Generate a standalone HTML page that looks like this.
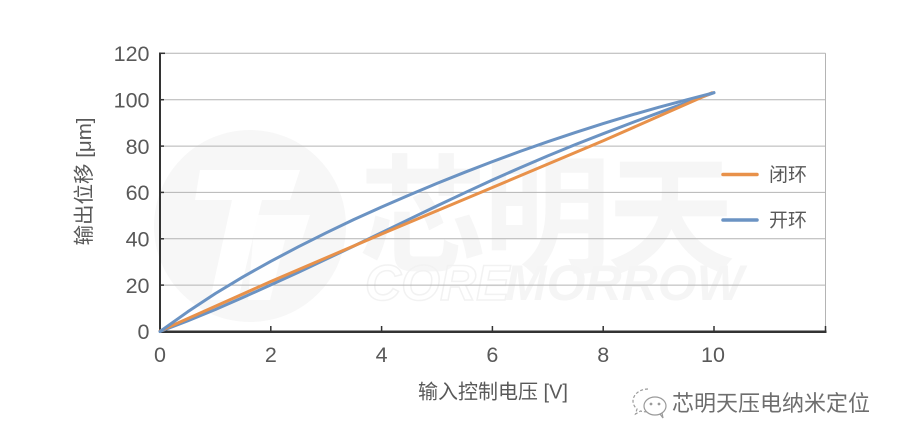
<!DOCTYPE html>
<html>
<head>
<meta charset="utf-8">
<style>
  html,body{margin:0;padding:0;background:#fff;}
  body{width:900px;height:444px;overflow:hidden;}
  svg{display:block;}
  text{font-family:"Liberation Sans","Noto Sans CJK SC",sans-serif;}
</style>
</head>
<body>
<svg width="900" height="444" viewBox="0 0 900 444" xmlns="http://www.w3.org/2000/svg">
  <rect x="0" y="0" width="900" height="444" fill="#ffffff"/>

  <!-- faint watermark -->
  <g>
    <circle cx="250" cy="226" r="96" fill="#f7f7f7"/>
    <path d="M200 170 L300 170 L290 200 L262 200 L238 300 L210 300 L232 200 L195 200 Z" fill="#ffffff"/>
    <path d="M255 215 L310 215 L302 240 L285 240 L270 300 L248 300 Z" fill="#ffffff" opacity="0.8"/>
    <text x="545" y="262" font-size="128" fill="#f6f6f6" text-anchor="middle" font-weight="bold" style="font-family:'Noto Sans CJK SC',sans-serif;letter-spacing:-4px">芯明天</text>
    <text x="365" y="300" font-size="50" fill="none" stroke="#f2f2f2" stroke-width="1.5" font-style="italic" font-weight="bold">CORE</text>
    <text x="505" y="300" font-size="50" fill="#f5f5f5" font-style="italic" font-weight="bold">MORROW</text>
  </g>

  <!-- gridlines -->
  <g stroke="#b4b4b4" stroke-width="1">
    <line x1="160" y1="53.3" x2="825.5" y2="53.3"/>
    <line x1="160" y1="99.7" x2="825.5" y2="99.7"/>
    <line x1="160" y1="146.1" x2="825.5" y2="146.1"/>
    <line x1="160" y1="192.4" x2="825.5" y2="192.4"/>
    <line x1="160" y1="238.8" x2="825.5" y2="238.8"/>
    <line x1="160" y1="285.1" x2="825.5" y2="285.1"/>
    <line x1="825.5" y1="53.3" x2="825.5" y2="331.5"/>
  </g>

  <!-- axes -->
  <g stroke="#333" stroke-width="2">
    <line x1="160" y1="52.5" x2="160" y2="332.5"/>
    <line x1="159" y1="331.8" x2="826.5" y2="331.8" stroke-width="2.5"/>
  </g>
  <g stroke="#333" stroke-width="1.5">
    <line x1="160" y1="53.3" x2="165" y2="53.3"/>
    <line x1="160" y1="99.7" x2="164" y2="99.7"/>
    <line x1="160" y1="146.1" x2="164" y2="146.1"/>
    <line x1="160" y1="192.4" x2="164" y2="192.4"/>
    <line x1="160" y1="238.8" x2="164" y2="238.8"/>
    <line x1="160" y1="285.1" x2="164" y2="285.1"/>
    <line x1="270.8" y1="326" x2="270.8" y2="331"/>
    <line x1="381.6" y1="326" x2="381.6" y2="331"/>
    <line x1="492.4" y1="326" x2="492.4" y2="331"/>
    <line x1="603.2" y1="326" x2="603.2" y2="331"/>
    <line x1="714" y1="326" x2="714" y2="331"/>
    <line x1="825.5" y1="326" x2="825.5" y2="331"/>
  </g>

  <!-- y tick labels -->
  <g font-size="21.5" fill="#595959" text-anchor="end">
    <text x="149.5" y="61">120</text>
    <text x="149.5" y="107.5">100</text>
    <text x="149.5" y="154">80</text>
    <text x="149.5" y="200">60</text>
    <text x="149.5" y="246.5">40</text>
    <text x="149.5" y="293">20</text>
    <text x="149.5" y="339">0</text>
  </g>
  <!-- x tick labels -->
  <g font-size="21.5" fill="#595959" text-anchor="middle">
    <text x="160" y="362">0</text>
    <text x="270.8" y="362">2</text>
    <text x="381.6" y="362">4</text>
    <text x="492.4" y="362">6</text>
    <text x="603.2" y="362">8</text>
    <text x="713" y="362">10</text>
  </g>

  <!-- axis titles -->
  <text x="493" y="398.5" font-size="20" fill="#595959" text-anchor="middle">输入控制电压 [V]</text>
  <text transform="translate(91,181.5) rotate(-90)" font-size="20.5" fill="#595959" text-anchor="middle">输出位移 [μm]</text>

  <!-- series -->
  <polyline fill="none" stroke="#6b93c3" stroke-width="3" stroke-linejoin="round" stroke-linecap="round"
    points="160,331.5 187.7,320.8 215.4,309.5 243.1,297.4 270.8,284.9 298.5,272.2 326.2,259.2 353.9,246.0 381.6,232.6 409.3,219.2 437.0,205.9 464.7,192.8 492.4,180.0 520.1,167.7 547.8,155.9 575.5,144.5 603.2,133.7 630.9,123.1 658.6,112.8 686.3,102.6 714,92.7"/>
  <polyline fill="none" stroke="#e8914a" stroke-width="3" stroke-linejoin="round" stroke-linecap="round"
    points="160,331 270.8,281.5 381.6,234.0 492.4,187.5 603.2,140.8 712,92.7"/>
  <polyline fill="none" stroke="#6b93c3" stroke-width="3" stroke-linejoin="round" stroke-linecap="round"
    points="160,331.5 187.7,311.8 215.4,293.5 243.1,276.8 270.8,261.3 298.5,246.7 326.2,232.8 353.9,219.5 381.6,207.0 409.3,195.0 437.0,183.4 464.7,172.3 492.4,161.6 520.1,151.4 547.8,141.7 575.5,132.4 603.2,123.6 630.9,115.2 658.6,107.3 686.3,99.9 714,92.7"/>

  <!-- legend -->
  <line x1="723" y1="174.5" x2="757" y2="174.5" stroke="#e8914a" stroke-width="3.5" stroke-linecap="round"/>
  <text x="769" y="181" font-size="19" fill="#595959">闭环</text>
  <line x1="723" y1="220" x2="757" y2="220" stroke="#6b93c3" stroke-width="3.5" stroke-linecap="round"/>
  <text x="769" y="226.5" font-size="19" fill="#595959">开环</text>

  <!-- wechat watermark -->
  <g fill="none" stroke="#9a9a9a" stroke-width="1.2">
    <path d="M648 389 c-9 0 -15 6 -15 12 c0 3 1.5 6 4 8 l-1.5 5 l5 -3 c2 .6 4 .8 6 .8" stroke-dasharray="3 2"/>
    <ellipse cx="655" cy="406" rx="11" ry="9"/>
    <path d="M660 414 l3 4 l-1 -5"/>
    <circle cx="651" cy="404" r="0.8" fill="#9a9a9a"/>
    <circle cx="659" cy="404" r="0.8" fill="#9a9a9a"/>
  </g>
  <text x="672" y="411" font-size="22" fill="#6e6e6e" style="font-family:'Noto Sans CJK SC',sans-serif;">芯明天压电纳米定位</text>
</svg>
</body>
</html>
